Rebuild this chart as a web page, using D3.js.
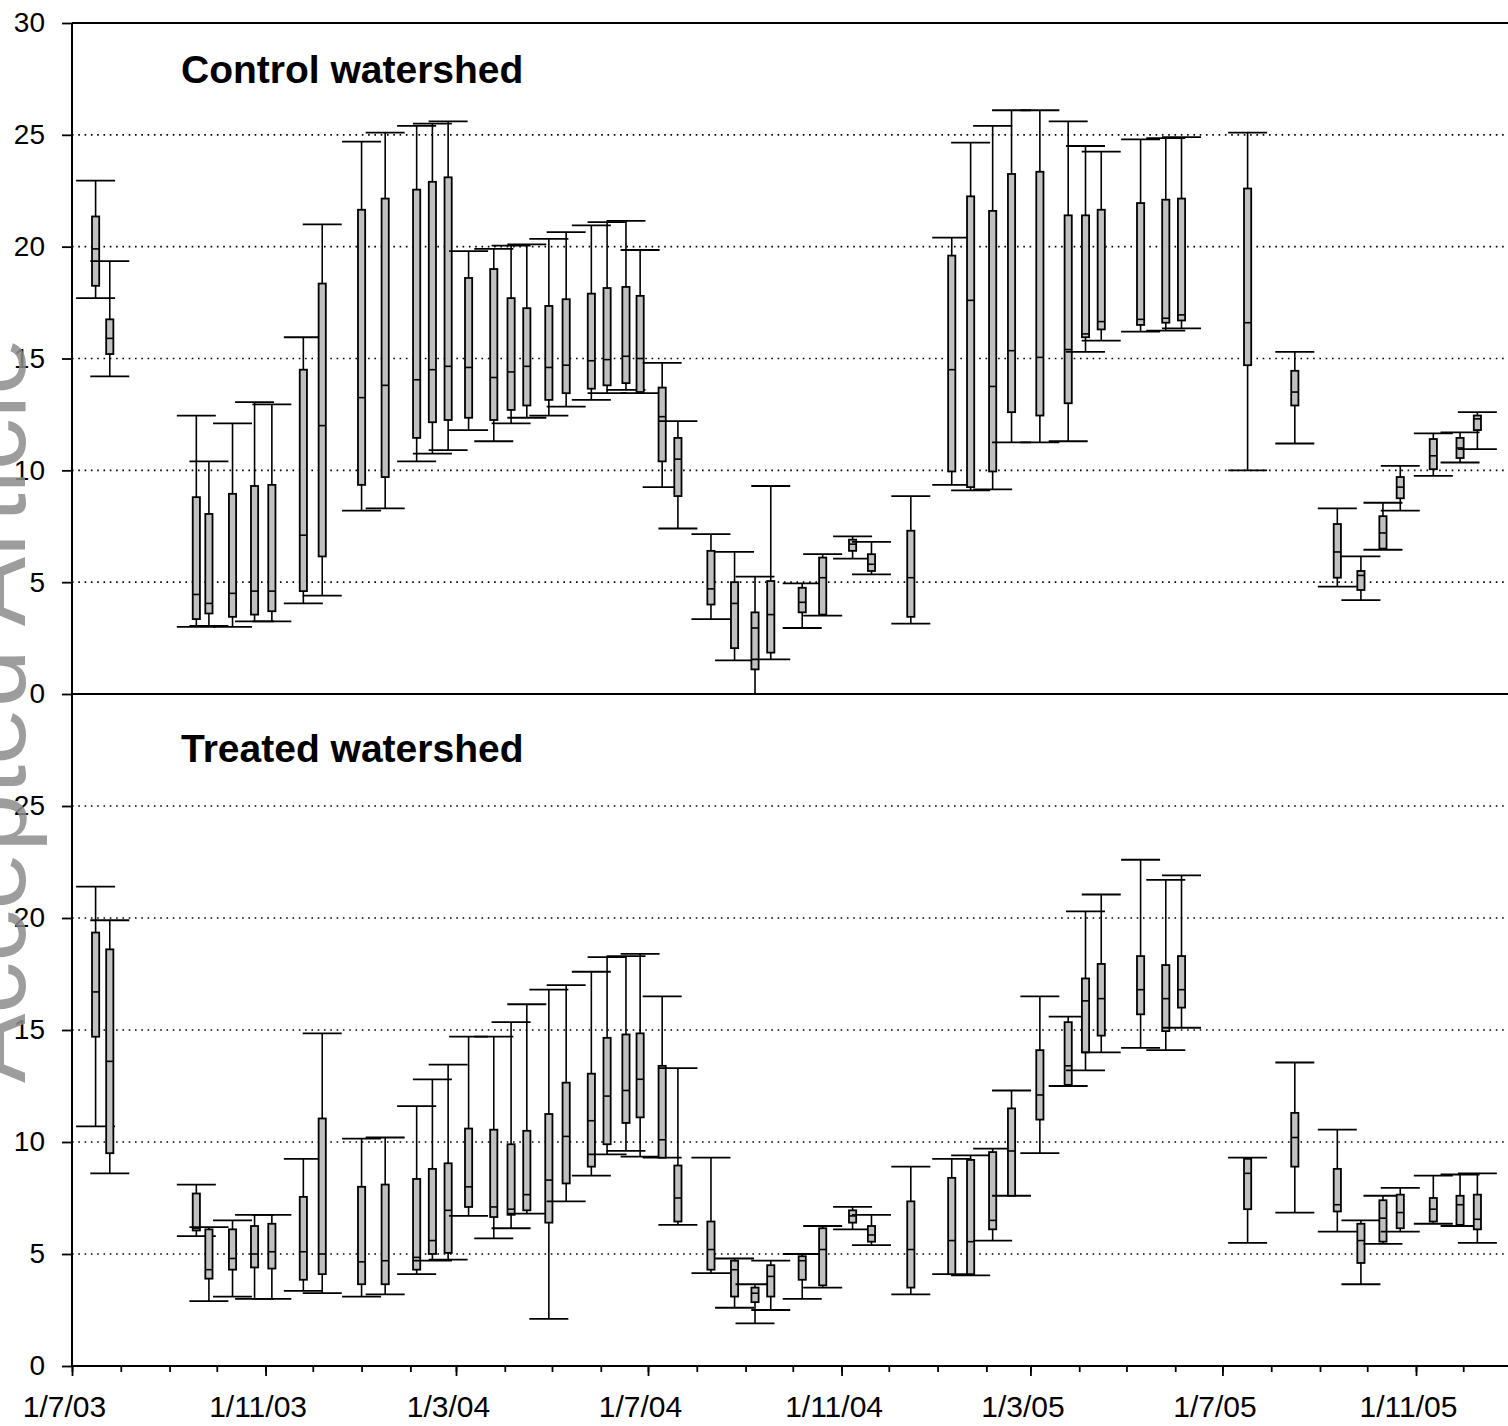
<!DOCTYPE html>
<html>
<head>
<meta charset="utf-8">
<script src="https://cdn.jsdelivr.net/npm/d3@7"></script>
<style>
  html, body { margin: 0; padding: 0; background: #fff; }
  svg { display: block; }
  text { font-family: "Liberation Sans", Arial, sans-serif; }
</style>
</head>
<body>
<svg id="chart" width="1508" height="1426"></svg>
<script>
// Sampling dates (one box per survey)
const sampleDates = [
  "2003-07-16","2003-07-25","2003-09-18","2003-09-26","2003-10-11","2003-10-25","2003-11-05","2003-11-25","2003-12-07",
  "2004-01-01","2004-01-16","2004-02-05","2004-02-15","2004-02-25","2004-03-09","2004-03-25","2004-04-05","2004-04-15",
  "2004-04-29","2004-05-10","2004-05-26","2004-06-05","2004-06-17","2004-06-26","2004-07-10","2004-07-20","2004-08-10",
  "2004-08-25","2004-09-07","2004-09-17","2004-10-07","2004-10-20","2004-11-08","2004-11-20","2004-12-15","2005-01-10",
  "2005-01-22","2005-02-05","2005-02-17","2005-03-07","2005-03-25","2005-04-05","2005-04-15","2005-05-10","2005-05-26",
  "2005-06-05","2005-07-17","2005-08-16","2005-09-12","2005-09-27","2005-10-11","2005-10-22","2005-11-12","2005-11-29",
  "2005-12-10"
];

// Control watershed: whisker low, lower quartile, median, upper quartile, whisker high
const controlLow = [17.7,14.2,3.0,3.05,3.0,3.25,3.25,4.05,4.4,8.2,8.3,10.4,10.75,10.9,11.8,11.3,12.1,12.35,12.45,12.85,13.15,13.45,13.6,13.45,9.25,7.4,3.35,1.5,0.0,1.55,2.95,3.5,6.05,5.35,3.15,9.35,9.1,9.15,11.25,11.25,11.3,15.3,15.8,16.2,16.25,16.35,10.0,11.2,4.8,4.2,6.45,8.2,9.75,10.35,10.95];
const controlQ1 = [18.25,15.2,3.35,3.6,3.45,3.55,3.7,4.6,6.15,9.35,9.7,11.45,12.15,12.25,12.35,12.25,12.7,12.9,13.15,13.45,13.65,13.8,13.9,13.5,10.4,8.85,4.0,2.05,1.1,1.85,3.65,3.55,6.4,5.5,3.45,9.95,9.25,9.95,12.6,12.45,13.0,15.95,16.3,16.5,16.6,16.7,14.7,12.9,5.2,4.65,6.5,8.75,10.05,10.55,11.8];
const controlMedian = [19.9,15.9,4.45,4.05,4.5,4.6,4.6,7.1,12.0,13.25,13.8,14.05,14.5,14.65,14.6,14.15,14.4,14.65,14.6,14.7,14.9,14.95,15.1,15.0,12.4,10.5,4.7,4.05,2.95,3.55,4.1,5.2,6.7,5.8,5.2,14.5,17.6,13.75,15.35,15.05,15.4,16.1,16.65,16.75,16.8,16.95,16.6,13.5,6.35,5.3,7.2,9.25,10.65,11.0,12.3];
const controlQ3 = [21.35,16.75,8.8,8.05,8.95,9.3,9.35,14.5,18.35,21.65,22.15,22.55,22.9,23.1,18.6,19.0,17.7,17.25,17.35,17.65,17.9,18.15,18.2,17.8,13.7,11.45,6.4,5.0,3.65,5.05,4.75,6.1,6.9,6.25,7.3,19.6,22.25,21.6,23.25,23.35,21.4,21.4,21.65,21.95,22.1,22.15,22.6,14.45,7.6,5.5,7.95,9.7,11.4,11.45,12.45];
const controlHigh = [22.95,19.35,12.45,10.4,12.1,13.05,12.95,15.95,21.0,24.7,25.1,25.4,25.5,25.6,19.8,19.9,20.05,20.1,20.35,20.65,20.95,21.1,21.15,19.85,14.8,12.2,7.15,6.35,5.25,9.3,4.95,6.25,7.05,6.8,8.85,20.4,24.65,25.4,26.1,26.1,25.6,24.5,24.25,24.8,24.85,24.9,25.1,15.3,8.3,6.15,8.55,10.2,11.65,11.7,12.6];

// Treated watershed: same five statistics
const treatedLow = [10.7,8.6,5.8,2.9,3.1,3.0,3.0,3.35,3.25,3.1,3.2,4.1,4.7,4.75,6.7,5.7,6.15,6.8,2.1,7.35,8.5,9.45,9.6,9.35,9.3,6.3,4.15,2.6,1.9,2.5,3.0,3.5,6.1,5.4,3.2,4.1,4.05,5.6,7.6,9.5,12.5,13.2,14.0,14.2,14.1,15.1,5.5,6.85,6.0,3.65,5.45,6.0,6.35,6.25,5.5];
const treatedQ1 = [14.7,9.5,6.05,3.9,4.3,4.4,4.35,3.85,4.1,3.65,3.65,4.3,5.0,5.05,7.1,6.65,6.75,6.95,6.4,8.15,8.9,9.9,10.85,11.1,9.3,6.45,4.3,3.1,2.85,3.1,3.85,3.6,6.4,5.55,3.5,4.1,4.1,6.1,7.6,11.0,12.55,14.0,14.75,15.7,14.95,16.0,7.0,8.9,6.9,4.6,5.55,6.15,6.45,6.3,6.1];
const treatedMedian = [16.7,13.6,6.15,4.3,4.8,5.0,5.1,5.1,5.0,4.65,4.7,4.85,5.6,6.95,8.0,7.1,7.0,7.65,8.3,10.25,10.95,12.05,12.3,12.8,10.1,7.5,5.2,4.3,3.25,4.0,4.7,5.2,6.7,5.85,5.2,5.6,5.55,6.5,9.6,12.1,13.4,16.3,16.4,16.8,16.4,16.8,8.6,10.2,7.2,5.6,6.6,6.85,7.0,7.2,6.55];
const treatedQ3 = [19.35,18.6,7.7,6.1,6.1,6.25,6.35,7.55,11.05,8.0,8.1,8.35,8.8,9.05,10.6,10.55,9.9,10.5,11.25,12.65,13.05,14.65,14.8,14.85,13.4,8.95,6.45,4.7,3.5,4.5,4.9,6.15,6.95,6.25,7.35,8.4,9.2,9.55,11.5,14.1,15.35,17.3,17.95,18.3,17.9,18.3,9.25,11.3,8.8,6.35,7.4,7.65,7.5,7.6,7.65];
const treatedHigh = [21.4,19.9,8.1,6.2,6.5,6.75,6.75,9.25,14.85,10.15,10.2,11.6,12.8,13.45,14.7,14.7,15.35,16.15,16.8,17.0,17.6,18.25,18.3,18.4,16.5,13.3,9.3,4.8,3.65,4.7,5.0,6.25,7.1,6.75,8.9,9.25,9.4,9.7,12.3,16.5,15.6,20.3,21.05,22.6,21.7,21.9,9.3,13.55,10.55,6.5,7.6,7.95,8.5,8.55,8.6];

const yTickValuesTop = [0, 5, 10, 15, 20, 25, 30];
const yTickValuesBottom = [0, 5, 10, 15, 20, 25];
const gridValues = [5, 10, 15, 20, 25];
const panelTitles = ["Control watershed", "Treated watershed"];
const majorTickDates = ["2003-07-01","2003-11-01","2004-03-01","2004-07-01","2004-11-01","2005-03-01","2005-07-01","2005-11-01"];

const parse = d3.timeParse("%Y-%m-%d");
const svg = d3.select("#chart");

const left = 72, right = 1508;
const x = d3.scaleTime()
  .domain([parse("2003-07-01"), parse("2005-11-01")])
  .range([left, 1416]);

const yTop = d3.scaleLinear().domain([0, 30]).range([694, 23]);
const yBottom = d3.scaleLinear().domain([0, 30]).range([1366, 694]);

function buildBoxes(lo, q1, med, q3, hi) {
  return sampleDates.map((d, i) => ({
    date: parse(d), lo: lo[i], q1: q1[i], med: med[i], q3: q3[i], hi: hi[i]
  }));
}
const panels = [
  { title: panelTitles[0], y: yTop, ticks: yTickValuesTop, titleY: 83,
    boxes: buildBoxes(controlLow, controlQ1, controlMedian, controlQ3, controlHigh) },
  { title: panelTitles[1], y: yBottom, ticks: yTickValuesBottom, titleY: 762,
    boxes: buildBoxes(treatedLow, treatedQ1, treatedMedian, treatedQ3, treatedHigh) }
];

const capHalf = 19.5, boxHalf = 3.6;

panels.forEach(p => {
  const g = svg.append("g");
  // dotted reference lines
  g.selectAll("line.grid").data(gridValues).join("line")
    .attr("x1", left).attr("x2", right)
    .attr("y1", d => p.y(d)).attr("y2", d => p.y(d))
    .attr("stroke", "#000").attr("stroke-width", 1.6)
    .attr("stroke-dasharray", "1.6 4.7");

  // y axis ticks and labels
  const ax = g.append("g").attr("transform", `translate(${left},0)`)
    .call(d3.axisLeft(p.y).tickValues(p.ticks).tickSize(10).tickPadding(17).tickFormat(d3.format("d")));
  ax.select(".domain").remove();
  ax.selectAll("line").attr("stroke", "#000").attr("stroke-width", 1.8);
  ax.selectAll("text").attr("font-size", 28).attr("fill", "#000");

  g.append("text").attr("x", 181).attr("y", p.titleY)
    .attr("font-size", 39).attr("font-weight", "bold").text(p.title);

  const bx = g.selectAll("g.box").data(p.boxes).join("g").attr("class", "box")
    .attr("transform", d => `translate(${x(d.date)},0)`);
  // whiskers
  bx.append("line").attr("x1", 0).attr("x2", 0)
    .attr("y1", d => p.y(d.q3)).attr("y2", d => p.y(d.hi))
    .attr("stroke", "#000").attr("stroke-width", 1.6);
  bx.append("line").attr("x1", 0).attr("x2", 0)
    .attr("y1", d => p.y(d.q1)).attr("y2", d => p.y(d.lo))
    .attr("stroke", "#000").attr("stroke-width", 1.6);
  // caps
  bx.append("line").attr("x1", -capHalf).attr("x2", capHalf)
    .attr("y1", d => p.y(d.hi)).attr("y2", d => p.y(d.hi))
    .attr("stroke", "#000").attr("stroke-width", 1.8);
  bx.append("line").attr("x1", -capHalf).attr("x2", capHalf)
    .attr("y1", d => p.y(d.lo)).attr("y2", d => p.y(d.lo))
    .attr("stroke", "#000").attr("stroke-width", 1.8);
  // box
  bx.append("rect").attr("x", -boxHalf).attr("width", boxHalf * 2)
    .attr("y", d => p.y(d.q3)).attr("height", d => p.y(d.q1) - p.y(d.q3))
    .attr("fill", "#c0c0c0").attr("stroke", "#000").attr("stroke-width", 1.8);
  // median
  bx.append("line").attr("x1", -boxHalf).attr("x2", boxHalf)
    .attr("y1", d => p.y(d.med)).attr("y2", d => p.y(d.med))
    .attr("stroke", "#000").attr("stroke-width", 1.6);
});

// frame lines: y axis and the three horizontal rules
svg.append("line").attr("x1", left).attr("x2", left).attr("y1", yTop(30)).attr("y2", yBottom(0))
  .attr("stroke", "#000").attr("stroke-width", 2);
[yTop(30), yTop(0), yBottom(0)].forEach(yy => {
  svg.append("line").attr("x1", left).attr("x2", right).attr("y1", yy).attr("y2", yy)
    .attr("stroke", "#000").attr("stroke-width", 2);
});

// x axis: monthly minor ticks and labelled major ticks
const months = d3.timeMonth.range(parse("2003-07-01"), parse("2005-12-02"));
const majors = majorTickDates.map(parse);
const minorAx = svg.append("g").attr("transform", `translate(0,${yBottom(0)})`)
  .call(d3.axisBottom(x).tickValues(months).tickSize(6).tickFormat(""));
minorAx.select(".domain").remove();
minorAx.selectAll("line").attr("stroke", "#000").attr("stroke-width", 1.8);

const fmt = d => `${d.getDate()}/${d.getMonth() + 1}/${d3.timeFormat("%y")(d)}`;
const majorAx = svg.append("g").attr("transform", `translate(0,${yBottom(0)})`)
  .call(d3.axisBottom(x).tickValues(majors).tickSize(10).tickPadding(20).tickFormat(fmt));
majorAx.select(".domain").remove();
majorAx.selectAll("line").attr("stroke", "#000").attr("stroke-width", 1.8);
majorAx.selectAll("text").attr("font-size", 30).attr("fill", "#000").attr("dx", -8);

// publisher watermark along the left edge
svg.append("text")
  .attr("transform", "translate(25,1083) rotate(-90)")
  .attr("font-family", "'Liberation Serif', 'Times New Roman', serif")
  .attr("font-size", 104).attr("fill", "#8c8c8c").attr("fill-opacity", 0.85)
  .text("Accepted Article");
</script>
</body>
</html>
